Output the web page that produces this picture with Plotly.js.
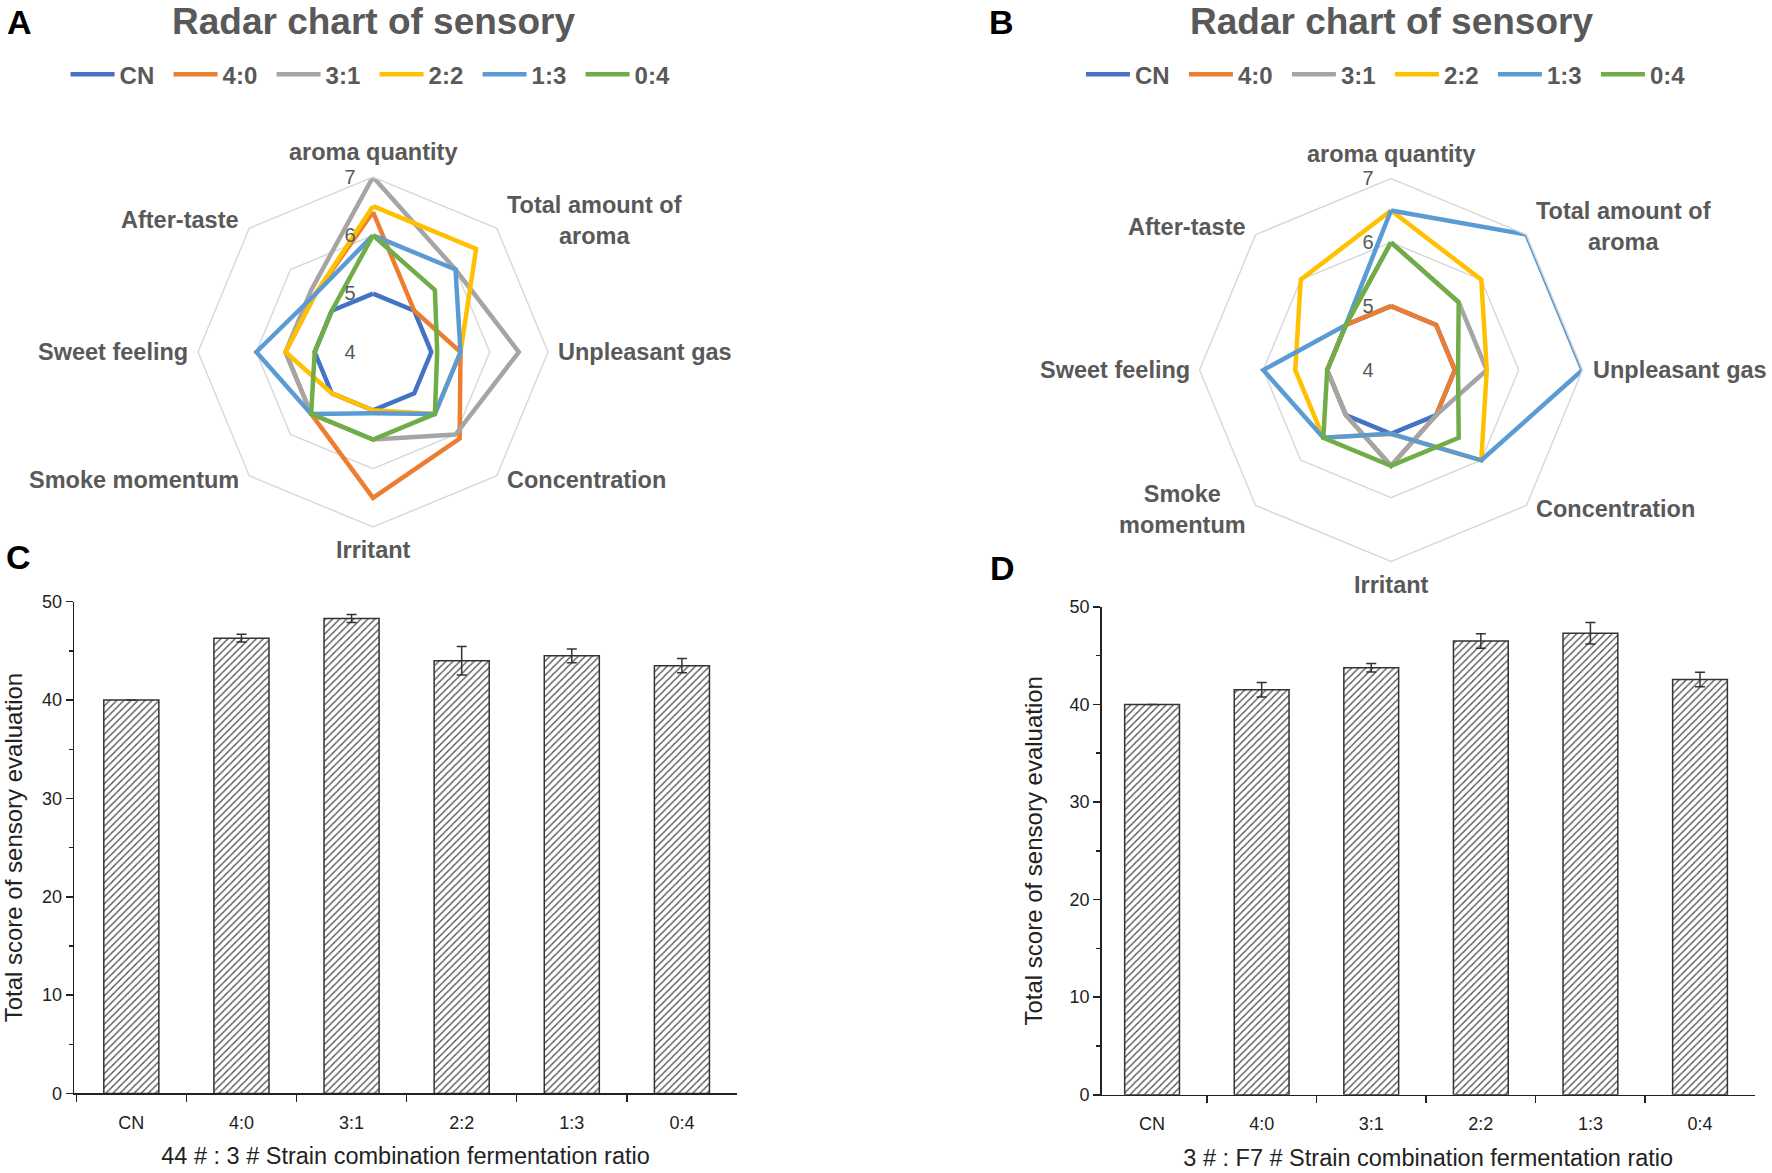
<!DOCTYPE html>
<html><head><meta charset="utf-8">
<script src="https://cdn.plot.ly/plotly-3.0.1.min.js"></script>
<style>html,body{margin:0;padding:0;background:#fff}#chart{width:1772px;height:1173px}</style>
</head><body><div id="chart"></div>
<script>
// ---------- data ----------
const series = ['CN', '4:0', '3:1', '2:2', '1:3', '0:4'];
const seriesColors = ['#4472C4', '#ED7D31', '#A5A5A5', '#FFC000', '#5B9BD5', '#70AD47'];
const attributesA = ['aroma quantity', 'Total amount of<br>aroma', 'Unpleasant gas', 'Concentration', 'Irritant', 'Smoke momentum', 'Sweet feeling', 'After-taste'];
const attributesB = ['aroma quantity', 'Total amount of<br>aroma', 'Unpleasant gas', 'Concentration', 'Irritant', 'Smoke<br>momentum', 'Sweet feeling', 'After-taste'];
const radarA_CN = [5.0, 5.0, 5.0, 5.0, 5.0, 5.0, 5.0, 5.0];
const radarA_40 = [6.4, 5.0, 5.5, 6.1, 6.5, 5.5, 5.5, 5.4];
const radarA_31 = [7.0, 6.0, 6.5, 6.0, 5.5, 5.5, 5.5, 5.5];
const radarA_22 = [6.5, 6.5, 5.5, 5.5, 5.0, 5.0, 5.5, 5.4];
const radarA_13 = [6.0, 6.0, 5.5, 5.5, 5.05, 5.5, 6.0, 5.4];
const radarA_04 = [6.0, 5.5, 5.1, 5.5, 5.5, 5.5, 5.0, 5.0];
const radarB_CN = [5.0, 5.0, 5.0, 5.0, 5.0, 5.0, 5.0, 5.0];
const radarB_40 = [5.0, 5.0, 5.0, 5.0, 5.5, 5.0, 5.0, 5.0];
const radarB_31 = [6.0, 5.5, 5.5, 5.0, 5.5, 5.0, 5.0, 5.0];
const radarB_22 = [6.5, 6.0, 5.5, 6.0, 5.0, 5.5, 5.5, 6.0];
const radarB_13 = [6.5, 7.0, 7.0, 6.0, 5.0, 5.5, 6.0, 5.0];
const radarB_04 = [6.0, 5.5, 5.05, 5.5, 5.5, 5.5, 5.0, 5.0];
const radarTicks = [4, 5, 6, 7];
const barCategories = ['CN', '4:0', '3:1', '2:2', '1:3', '0:4'];
const totalC = [40.0, 46.3, 48.3, 44.0, 44.5, 43.5];
const errC = [0, 0.4, 0.4, 1.45, 0.7, 0.72];
const totalD = [40.0, 41.5, 43.75, 46.5, 47.3, 42.55];
const errD = [0, 0.74, 0.44, 0.75, 1.1, 0.75];
const yTicks = [0, 10, 20, 30, 40, 50];

// ---------- constants ----------
const W = 1772, H = 1173;
const FONT = 'Liberation Sans, Arial, sans-serif';
const domA = {x: [0.1117, 0.3093], y: [0.5507, 0.8491]};
const domB = {x: [0.6769, 0.8931], y: [0.5213, 0.8478]};

// ---------- traces ----------
const radarA = [radarA_CN, radarA_40, radarA_31, radarA_22, radarA_13, radarA_04];
const radarB = [radarB_CN, radarB_40, radarB_31, radarB_22, radarB_13, radarB_04];
const traces = [];
function closeRing(a) { return a.concat([a[0]]); }
series.forEach((name, i) => {
  traces.push({type: 'scatterpolar', subplot: 'polar', legend: 'legend', name: name,
    r: closeRing(radarA[i]), theta: closeRing(attributesA), mode: 'lines',
    line: {color: seriesColors[i], width: 4.5}, hoverinfo: 'skip'});
});
series.forEach((name, i) => {
  traces.push({type: 'scatterpolar', subplot: 'polar2', legend: 'legend2', name: name,
    r: closeRing(radarB[i]), theta: closeRing(attributesB), mode: 'lines',
    line: {color: seriesColors[i], width: 4.5}, hoverinfo: 'skip'});
});
function barTrace(vals, errs, xa, ya) {
  return {type: 'bar', x: barCategories, y: vals, xaxis: xa, yaxis: ya, width: 0.5, showlegend: false,
    error_y: {type: 'data', array: errs, visible: true, color: '#333', thickness: 1.5, width: 5},
    marker: {color: 'white', line: {color: '#333', width: 1.5},
      pattern: {shape: '/', fgcolor: '#555', bgcolor: 'white', size: 5, solidity: 0.28}}};
}
traces.push(barTrace(totalC, errC, 'x', 'y'));
traces.push(barTrace(totalD, errD, 'x2', 'y2'));

// ---------- layout ----------
function polarLayout(dom, cats) {
  return {
    domain: dom, gridshape: 'linear', bgcolor: 'white',
    angularaxis: {type: 'category', categoryarray: cats, direction: 'clockwise', rotation: 90,
      showgrid: false, showline: true, linecolor: '#d9d9d9', linewidth: 1.5, ticks: '', showticklabels: false},
    radialaxis: {range: [4, 7], tickvals: radarTicks, angle: 90, side: 'counterclockwise', tickangle: 90,
      showline: false, ticks: 'outside', ticklen: 10, tickcolor: 'rgba(0,0,0,0)',
      gridcolor: '#d9d9d9', gridwidth: 1.5, tickfont: {family: FONT, size: 20, color: '#595959'}}
  };
}
// category labels placed around the polygon, computed from the polar domain geometry
function categoryLabels(dom, cats) {
  const cx = (dom.x[0] + dom.x[1]) / 2 * W;
  const cy = (1 - (dom.y[0] + dom.y[1]) / 2) * H;
  const R = Math.min((dom.x[1] - dom.x[0]) * W, (dom.y[1] - dom.y[0]) * H) / 2;
  return cats.map((c, i) => {
    const a = (90 - 45 * i) * Math.PI / 180;
    const cs = Math.cos(a), sn = Math.sin(a);
    const vx = cx + R * cs, vy = cy - R * sn;
    let x = vx, y = vy, xa = 'center';
    if (Math.abs(cs) < 0.1) { y = sn > 0 ? vy - 25 : vy + 23; }
    else {
      xa = cs > 0 ? 'left' : 'right';
      x = vx + (cs > 0 ? 8 : -8);
      y = vy + (sn > 0.1 ? -8 : (sn < -0.1 ? 4 : 0));
    }
    return {text: c, x: x / W, y: 1 - y / H, xref: 'paper', yref: 'paper', xanchor: xa, yanchor: 'middle',
      align: 'center', showarrow: false, font: {family: FONT, size: 23.5, color: '#595959', weight: 'bold'}};
  });
}
function legendLayout(x) {
  return {orientation: 'h', x: x, y: 0.9555, xanchor: 'left', yanchor: 'top',
    font: {family: FONT, size: 24, color: '#595959', weight: 'bold'},
    itemwidth: 44, entrywidth: 44, entrywidthmode: 'pixels', bgcolor: 'rgba(0,0,0,0)',
    itemclick: false, itemdoubleclick: false};
}
function xAxis(dom, anchor, title, rng) {
  return {domain: dom, anchor: anchor, type: 'category', range: rng, showline: true, linecolor: '#222', linewidth: 1.5,
    ticks: 'outside', tickson: 'boundaries', ticklen: 7, tickwidth: 1.5, tickcolor: '#222', ticklabelstandoff: 12,
    tickfont: {family: FONT, size: 18, color: '#222'}, showgrid: false, zeroline: false,
    title: {text: title, font: {family: FONT, size: 23.5, color: '#222'}, standoff: 16}};
}
function yAxis(dom, anchor, standoff) {
  return {domain: dom, anchor: anchor, range: [0, 50], tickvals: yTicks, showline: true, linecolor: '#222', linewidth: 1.5,
    ticks: 'outside', ticklen: 7, tickwidth: 1.5, tickcolor: '#222',
    minor: {ticks: 'outside', dtick: 5, ticklen: 4, tickwidth: 1.5, tickcolor: '#222'},
    tickfont: {family: FONT, size: 18, color: '#222'}, showgrid: false, zeroline: false,
    title: {text: 'Total score of sensory evaluation', font: {family: FONT, size: 24, color: '#222'}, standoff: standoff}};
}
const panelFont = {family: FONT, size: 34, color: '#000', weight: 'bold'};
const titleFont = {family: FONT, size: 37, color: '#595959', weight: 'bold'};
function paperText(text, px, py, font) {
  return {text: text, x: px / W, y: 1 - py / H, xref: 'paper', yref: 'paper', xanchor: 'center', yanchor: 'middle',
    showarrow: false, font: font};
}
const layout = {
  width: W, height: H, margin: {l: 0, r: 0, t: 0, b: 0}, paper_bgcolor: 'white', plot_bgcolor: 'white',
  showlegend: true,
  polar: polarLayout(domA, attributesA),
  polar2: polarLayout(domB, attributesB),
  legend: legendLayout(0.037),
  legend2: legendLayout(0.61),
  xaxis: xAxis([0.0418, 0.4159], 'y', '44 # : 3 # Strain combination fermentation ratio', [-0.52, 5.5]),
  yaxis: yAxis([0.0678, 0.4870], 'x', 12),
  xaxis2: xAxis([0.6217, 0.9903], 'y2', '3 # : F7 # Strain combination fermentation ratio', [-0.46, 5.5]),
  yaxis2: yAxis([0.0667, 0.4827], 'x2', 20),
  annotations: [
    paperText('Radar chart of sensory', 373, 22, titleFont),
    paperText('Radar chart of sensory', 1391, 22, titleFont),
    paperText('A', 19, 22, panelFont),
    paperText('B', 1001, 22, panelFont),
    paperText('C', 18, 557, panelFont),
    paperText('D', 1003, 568, panelFont)
  ].concat(categoryLabels(domA, attributesA), categoryLabels(domB, attributesB))
};
Plotly.newPlot('chart', traces, layout, {displayModeBar: false, staticPlot: true});
</script></body></html>
